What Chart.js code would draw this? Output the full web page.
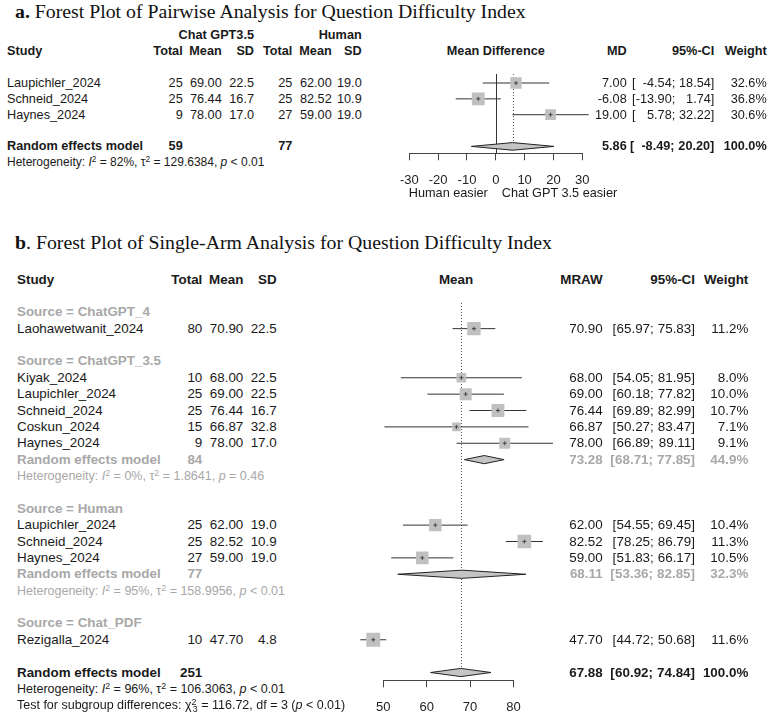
<!DOCTYPE html>
<html>
<head>
<meta charset="utf-8">
<script src="https://cdn.jsdelivr.net/npm/chart.js@4.4.1/dist/chart.umd.min.js"></script>
<style>
  html, body { margin: 0; padding: 0; background: #fff; }
  #page { position: relative; width: 768px; height: 717px; overflow: hidden;
          font-family: "Liberation Sans", Arial, sans-serif; color: #1a1a1a; }
  canvas { position: absolute; }
  .t { position: absolute; white-space: pre; line-height: 1; }
  .b { font-weight: bold; }
  .g { color: #a8a8a8; }
  .title { font-family: "Liberation Serif", "Times New Roman", serif; color: #111; }
  .num { display: inline-block; text-align: right; }
  sup { font-size: 0.7em; vertical-align: 0.45em; line-height: 0; }
  sub { font-size: 0.7em; vertical-align: -0.3em; line-height: 0; margin-left: -0.4em; }
</style>
</head>
<body>
<div id="page">
  <canvas id="pairChart"></canvas>
  <canvas id="armChart"></canvas>
</div>
<script>
// ---------- panel a: pairwise, Chat GPT 3.5 vs human ----------
const pairStudies = ['Laupichler_2024', 'Schneid_2024', 'Haynes_2024'];
const gptTotal = [25, 25, 9];
const gptMean = [69.00, 76.44, 78.00];
const gptSD = [22.5, 16.7, 17.0];
const humTotal = [25, 25, 27];
const humMean = [62.00, 82.52, 59.00];
const humSD = [19.0, 10.9, 19.0];
const pairMD = [7.00, -6.08, 19.00];
const pairLo = [-4.54, -13.90, 5.78];
const pairHi = [18.54, 1.74, 32.22];
const pairWeight = [32.6, 36.8, 30.6];
const pairPooled = [5.86, -8.49, 20.20];      // estimate, lower, upper
const pairHet = ['82%', '129.6384', '< 0.01']; // I2, tau2, p
const pairTicks = [-30, -20, -10, 0, 10, 20, 30];

// ---------- panel b: single arm, by source ----------
const groups = ['ChatGPT_4', 'ChatGPT_3.5', 'Human', 'Chat_PDF'];
const armStudies = ['Laohawetwanit_2024', 'Kiyak_2024', 'Laupichler_2024', 'Schneid_2024', 'Coskun_2024',
                    'Haynes_2024', 'Laupichler_2024', 'Schneid_2024', 'Haynes_2024', 'Rezigalla_2024'];
const armGroup = [0, 1, 1, 1, 1, 1, 2, 2, 2, 3];
const armTotal = [80, 10, 25, 25, 15, 9, 25, 25, 27, 10];
const armMean = [70.90, 68.00, 69.00, 76.44, 66.87, 78.00, 62.00, 82.52, 59.00, 47.70];
const armSD = [22.5, 22.5, 22.5, 16.7, 32.8, 17.0, 19.0, 10.9, 19.0, 4.8];
const armLo = [65.97, 54.05, 60.18, 69.89, 50.27, 66.89, 54.55, 78.25, 51.83, 44.72];
const armHi = [75.83, 81.95, 77.82, 82.99, 83.47, 89.11, 69.45, 86.79, 66.17, 50.68];
const armWeight = [11.2, 8.0, 10.0, 10.7, 7.1, 9.1, 10.4, 11.3, 10.5, 11.6];

// subgroup pooled rows (only sources with more than one study)
const subTotal = [null, 84, 77, null];
const subEst = [null, 73.28, 68.11, null];
const subLo = [null, 68.71, 53.36, null];
const subHi = [null, 77.85, 82.85, null];
const subWeight = [null, 44.9, 32.3, null];
const subHet = [null, ['0%', '1.8641', '= 0.46'], ['95%', '158.9956', '< 0.01'], null];

const allTotal = 251;
const allPooled = [67.88, 60.92, 74.84];
const allHet = ['96%', '106.3063', '< 0.01'];
const subgroupTest = ['116.72', '3', '< 0.01']; // chi2, df, p
const armTicks = [50, 60, 70, 80];

// ---------- layout (pixels) ----------
const pairBox = { left: 385, top: 64, width: 240, height: 126, plotTop: 74, axisY: 153.3,
                  plotLeft: 394.9, plotRight: 611.1, xMin: -35, xMax: 40, row0: 51.3, rowH: 15.85 };
const armBox = { left: 330, top: 290, width: 262, height: 425, plotTop: 303, axisY: 680.3,
                 plotLeft: 338.7, plotRight: 578.5, xMin: 40, xMax: 95, row0: 279.5, rowH: 16.375 };

const page = document.getElementById('page');
Chart.defaults.font.family = '"Liberation Sans", Arial, sans-serif';

function esc(s) { return s.replace(/</g, '&lt;'); }

function put(html, x, y, align, size, cls) {
    const el = document.createElement('div');
    el.className = 't ' + (cls || '');
    el.innerHTML = html;
    el.style.fontSize = size + 'px';
    el.style.top = y + 'px';
    if (align === 'right') {
        el.style.right = (768 - x) + 'px';
        el.style.transform = 'translateY(-50%)';
    } else if (align === 'center') {
        el.style.left = x + 'px';
        el.style.transform = 'translate(-50%,-50%)';
    } else {
        el.style.left = x + 'px';
        el.style.transform = 'translateY(-50%)';
    }
    page.appendChild(el);
}

function ci(lo, hi, loW, hiW) {
    return '[<span class="num" style="width:' + loW + 'em">' + lo.toFixed(2) + '</span>; ' +
           '<span class="num" style="width:' + hiW + 'em">' + hi.toFixed(2) + '</span>]';
}

function het(h) {
    return 'Heterogeneity: <i>I</i><sup>2</sup> = ' + h[0] + ', τ<sup>2</sup> = ' + h[1] +
           ', <i>p</i> ' + esc(h[2]);
}

/* ---------- DATASET BUILDERS ---------- */
function ciLines(lo, hi, rows) {
    return lo.map((v, i) => ({
        type: 'line',
        data: [{ x: v, y: rows[i] }, { x: hi[i], y: rows[i] }],
        borderColor: '#333', borderWidth: 1, pointRadius: 0, order: 4
    }));
}

function squares(est, rows, weight, k) {
    return [{
        type: 'scatter',
        data: est.map((v, i) => ({ x: v, y: rows[i] })),
        pointStyle: 'rect',
        pointRadius: weight.map(w => w * k / Math.SQRT2),
        backgroundColor: '#c0c0c0', borderWidth: 0, order: 2
    }, {
        type: 'scatter',
        data: est.map((v, i) => ({ x: v, y: rows[i] })),
        pointStyle: 'cross', pointRadius: 2,
        borderColor: '#444', borderWidth: 1, order: 1
    }];
}

function diamond(est, lo, hi, row, h) {
    return {
        type: 'line',
        data: [{ x: lo, y: row }, { x: est, y: row - h }, { x: hi, y: row }, { x: est, y: row + h }, { x: lo, y: row }],
        fill: 'shape', backgroundColor: '#c4c4c4', borderColor: '#222', borderWidth: 1,
        pointRadius: 0, tension: 0, order: 3
    };
}

// reference lines + short axis line (R style: axis only spans the ticks)
function guides(zero, pooled, pooledRow, ticks) {
    return {
        id: 'guides',
        beforeDatasetsDraw(chart) {
            const { ctx, chartArea } = chart;
            const x = chart.scales.x, y = chart.scales.y;
            ctx.save();
            ctx.strokeStyle = '#333';
            ctx.lineWidth = 1;
            if (zero !== null) {
                const px = Math.round(x.getPixelForValue(zero)) + 0.5;
                ctx.beginPath();
                ctx.moveTo(px, chartArea.top);
                ctx.lineTo(px, chartArea.bottom);
                ctx.stroke();
            }
            const dx = Math.round(x.getPixelForValue(pooled)) + 0.5;
            ctx.strokeStyle = '#555';
            ctx.setLineDash([1, 2]);
            ctx.beginPath();
            ctx.moveTo(dx, chartArea.top);
            ctx.lineTo(dx, y.getPixelForValue(pooledRow));
            ctx.stroke();
            ctx.setLineDash([]);
            ctx.strokeStyle = '#444';
            const ay = Math.round(chartArea.bottom) + 0.5;
            ctx.beginPath();
            ctx.moveTo(x.getPixelForValue(ticks[0]), ay);
            ctx.lineTo(x.getPixelForValue(ticks[ticks.length - 1]), ay);
            ctx.stroke();
            ctx.restore();
        }
    };
}

function forestChart(id, box, datasets, ticks, plugin) {
    const canvas = document.getElementById(id);
    canvas.width = box.width;
    canvas.height = box.height;
    canvas.style.left = box.left + 'px';
    canvas.style.top = box.top + 'px';
    const axisH = box.top + box.height - box.axisY;
    return new Chart(canvas, {
        type: 'scatter',
        data: { datasets },
        options: {
            responsive: false,
            animation: false,
            events: [],
            layout: {
                padding: {
                    top: box.plotTop - box.top,
                    left: box.plotLeft - box.left,
                    right: box.left + box.width - box.plotRight,
                    bottom: 0
                }
            },
            plugins: { legend: { display: false }, tooltip: { enabled: false } },
            scales: {
                x: {
                    type: 'linear', min: box.xMin, max: box.xMax,
                    afterBuildTicks: s => { s.ticks = ticks.map(v => ({ value: v })); },
                    afterFit: s => { s.height = axisH; },
                    border: { display: false },
                    grid: { drawOnChartArea: false, drawTicks: true, tickLength: 7, color: '#444' },
                    ticks: { color: '#222', font: { size: 13 }, padding: 12, maxRotation: 0, autoSkip: false }
                },
                y: {
                    type: 'linear', reverse: true, display: false,
                    min: (box.plotTop - box.row0) / box.rowH,
                    max: (box.axisY - box.row0) / box.rowH
                }
            }
        },
        plugins: [plugin]
    });
}

/* ---------- PANEL A ---------- */
const pairRows = pairStudies.map((s, i) => i + 2);
const pairPoolRow = pairRows[pairRows.length - 1] + 2;

const pairChart = forestChart('pairChart', pairBox, [
    ...ciLines(pairLo, pairHi, pairRows),
    ...squares(pairMD, pairRows, pairWeight, 0.35),
    diamond(pairPooled[0], pairPooled[1], pairPooled[2], pairPoolRow, 0.24)
], pairTicks, guides(0, pairPooled[0], pairPoolRow, pairTicks));

const ya = r => pairBox.top + pairChart.scales.y.getPixelForValue(r);
const xa = v => pairBox.left + pairChart.scales.x.getPixelForValue(v);

put('<b>a.</b> Forest Plot of Pairwise Analysis for Question Difficulty Index', 15, 12, 'left', 19.8, 'title');

const A = 12.7;
put('Chat GPT3.5', 254, ya(-1), 'right', A, 'b');
put('Human', 361.7, ya(-1), 'right', A, 'b');
put('Study', 7, ya(0), 'left', A, 'b');
put('Total', 182.7, ya(0), 'right', A, 'b');
put('Mean', 221.7, ya(0), 'right', A, 'b');
put('SD', 254, ya(0), 'right', A, 'b');
put('Total', 292.3, ya(0), 'right', A, 'b');
put('Mean', 331.7, ya(0), 'right', A, 'b');
put('SD', 361.7, ya(0), 'right', A, 'b');
put('Mean Difference', xa(0), ya(0), 'center', A, 'b');
put('MD', 626.7, ya(0), 'right', A, 'b');
put('95%-CI', 714.3, ya(0), 'right', A, 'b');
put('Weight', 766.7, ya(0), 'right', A, 'b');

pairStudies.forEach((s, i) => {
    const y = ya(pairRows[i]);
    put(s, 7, y, 'left', A);
    put(String(gptTotal[i]), 182.7, y, 'right', A);
    put(gptMean[i].toFixed(2), 221.7, y, 'right', A);
    put(gptSD[i].toFixed(1), 254, y, 'right', A);
    put(String(humTotal[i]), 292.3, y, 'right', A);
    put(humMean[i].toFixed(2), 331.7, y, 'right', A);
    put(humSD[i].toFixed(1), 361.7, y, 'right', A);
    put(pairMD[i].toFixed(2), 626.7, y, 'right', A);
    put(ci(pairLo[i], pairHi[i], 2.85, 2.52), 714.3, y, 'right', A);
    put(pairWeight[i].toFixed(1) + '%', 766.7, y, 'right', A);
});

const pyA = ya(pairPoolRow);
put('Random effects model', 7, pyA, 'left', A, 'b');
put(String(gptTotal.reduce((a, b) => a + b, 0)), 182.7, pyA, 'right', A, 'b');
put(String(humTotal.reduce((a, b) => a + b, 0)), 292.3, pyA, 'right', A, 'b');
put(pairPooled[0].toFixed(2), 626.7, pyA, 'right', A, 'b');
put(ci(pairPooled[1], pairPooled[2], 2.85, 2.52), 714.3, pyA, 'right', A, 'b');
put('100.0%', 766.7, pyA, 'right', A, 'b');
put(het(pairHet), 7, ya(pairPoolRow + 1), 'left', 12);

put('Human easier', xa(0) - 8, 193, 'right', A);
put('Chat GPT 3.5 easier', xa(0) + 6, 193, 'left', A);

/* ---------- PANEL B ---------- */
const armRow = [], subRow = [], groupRow = [];
let r = 2;
groups.forEach((g, gi) => {
    groupRow.push(r++);
    armStudies.forEach((s, i) => { if (armGroup[i] === gi) armRow[i] = r++; });
    if (subEst[gi] !== null) { subRow[gi] = r; r += 2; }
    r++;
});
const allRow = r;

const subIdx = subEst.map((v, i) => i).filter(i => subEst[i] !== null);

const armChart = forestChart('armChart', armBox, [
    ...ciLines(armLo, armHi, armRow),
    ...squares(armMean, armRow, armWeight, 1.2),
    ...subIdx.map(i => diamond(subEst[i], subLo[i], subHi[i], subRow[i], 0.25)),
    diamond(allPooled[0], allPooled[1], allPooled[2], allRow, 0.25)
], armTicks, guides(null, allPooled[0], allRow, armTicks));

const yb = r => armBox.top + armChart.scales.y.getPixelForValue(r);

put('<b>b</b>. Forest Plot of Single-Arm Analysis for Question Difficulty Index', 15, 243, 'left', 19.8, 'title');

const B = 13.4, BH = 12.5;
put('Study', 17, yb(0), 'left', B, 'b');
put('Total', 202.3, yb(0), 'right', B, 'b');
put('Mean', 243.3, yb(0), 'right', B, 'b');
put('SD', 276.7, yb(0), 'right', B, 'b');
put('Mean', 456, yb(0), 'center', B, 'b');
put('MRAW', 602.7, yb(0), 'right', B, 'b');
put('95%-CI', 695, yb(0), 'right', B, 'b');
put('Weight', 748.3, yb(0), 'right', B, 'b');

groups.forEach((g, gi) => {
    put('Source = ' + g, 17, yb(groupRow[gi]), 'left', B, 'b g');
    if (subEst[gi] !== null) {
        const y = yb(subRow[gi]);
        put('Random effects model', 17, y, 'left', B, 'b g');
        put(String(subTotal[gi]), 202.3, y, 'right', B, 'b g');
        put(subEst[gi].toFixed(2), 602.7, y, 'right', B, 'b g');
        put(ci(subLo[gi], subHi[gi], 2.52, 2.52), 695, y, 'right', B, 'b g');
        put(subWeight[gi].toFixed(1) + '%', 748.3, y, 'right', B, 'b g');
        put(het(subHet[gi]), 17, yb(subRow[gi] + 1), 'left', BH, 'g');
    }
});

armStudies.forEach((s, i) => {
    const y = yb(armRow[i]);
    put(s, 17, y, 'left', B);
    put(String(armTotal[i]), 202.3, y, 'right', B);
    put(armMean[i].toFixed(2), 243.3, y, 'right', B);
    put(armSD[i].toFixed(1), 276.7, y, 'right', B);
    put(armMean[i].toFixed(2), 602.7, y, 'right', B);
    put(ci(armLo[i], armHi[i], 2.52, 2.52), 695, y, 'right', B);
    put(armWeight[i].toFixed(1) + '%', 748.3, y, 'right', B);
});

const yAll = yb(allRow);
put('Random effects model', 17, yAll, 'left', B, 'b');
put(String(allTotal), 202.3, yAll, 'right', B, 'b');
put(allPooled[0].toFixed(2), 602.7, yAll, 'right', B, 'b');
put(ci(allPooled[1], allPooled[2], 2.52, 2.52), 695, yAll, 'right', B, 'b');
put('100.0%', 748.3, yAll, 'right', B, 'b');
put(het(allHet), 17, yb(allRow + 1), 'left', BH);
put('Test for subgroup differences: χ<sup>2</sup><sub>' + subgroupTest[1] + '</sub> = ' +
    subgroupTest[0] + ', df = ' + subgroupTest[1] + ' (<i>p</i> ' + esc(subgroupTest[2]) + ')',
    17, yb(allRow + 2), 'left', BH);
</script>
</body>
</html>
